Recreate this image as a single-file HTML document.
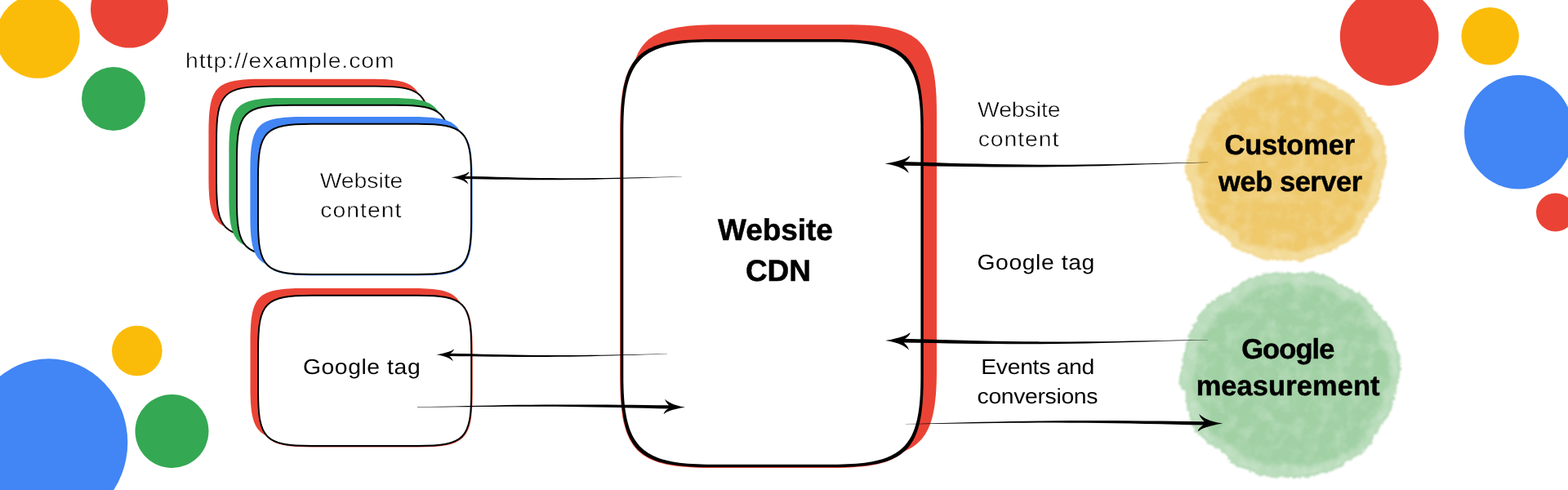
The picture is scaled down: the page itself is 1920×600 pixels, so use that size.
<!DOCTYPE html>
<html lang="en">
<head>
<meta charset="utf-8">
<title>Website CDN diagram</title>
<style>
html,body{margin:0;padding:0;background:#fff;}
body{width:1920px;height:600px;overflow:hidden;}
svg{display:block;}
text{font-family:"Liberation Sans",sans-serif;fill:#000;text-rendering:geometricPrecision;}
#labels{opacity:0.999;}
.l{font-size:26px;stroke:#fff;stroke-width:0.45px;}
.m{font-size:26px;}
.b{font-size:34.5px;font-weight:bold;stroke:#000;stroke-width:0.5px;stroke-linejoin:round;}
.c{font-size:37px;font-weight:bold;stroke:#000;stroke-width:0.5px;stroke-linejoin:round;}
</style>
</head>
<body>
<svg width="1920" height="600" viewBox="0 0 1920 600">
<defs>
<filter id="wc" x="-10%" y="-10%" width="120%" height="120%" color-interpolation-filters="sRGB">
<feTurbulence type="fractalNoise" baseFrequency="0.035" numOctaves="2" seed="7" result="n1"/>
<feDisplacementMap in="SourceGraphic" in2="n1" scale="4" xChannelSelector="R" yChannelSelector="G" result="d1"/>
<feTurbulence type="fractalNoise" baseFrequency="0.22" numOctaves="2" seed="11" result="n2"/>
<feDisplacementMap in="d1" in2="n2" scale="6" xChannelSelector="G" yChannelSelector="R" result="d2"/>
<feGaussianBlur in="d2" stdDeviation="0.8"/>
</filter>
<filter id="wi" x="-10%" y="-10%" width="120%" height="120%" color-interpolation-filters="sRGB">
<feTurbulence type="fractalNoise" baseFrequency="0.03" numOctaves="2" seed="21" result="n1"/>
<feDisplacementMap in="SourceGraphic" in2="n1" scale="14" xChannelSelector="R" yChannelSelector="G" result="d1"/>
<feTurbulence type="fractalNoise" baseFrequency="0.15" numOctaves="2" seed="5" result="n2"/>
<feDisplacementMap in="d1" in2="n2" scale="8" xChannelSelector="G" yChannelSelector="R" result="d2"/>
<feGaussianBlur in="d2" stdDeviation="2.2"/>
</filter>
<filter id="wt" x="0" y="0" width="100%" height="100%" color-interpolation-filters="sRGB">
<feTurbulence type="fractalNoise" baseFrequency="0.06" numOctaves="3" seed="2" result="n"/>
<feColorMatrix in="n" type="matrix" values="0 0 0 0 1  0 0 0 0 1  0 0 0 0 1  1.6 0 0 0 -0.62" result="a"/>
<feComposite in="a" in2="SourceGraphic" operator="in"/>
</filter>
</defs>
<rect width="1920" height="600" fill="#fff"/>
<circle cx="46.5" cy="44.6" r="51.2" fill="#FBBC09"/>
<circle cx="158.5" cy="11" r="47.5" fill="#EA4335"/>
<circle cx="139" cy="121" r="39" fill="#34A853"/>
<circle cx="167.8" cy="429.5" r="30.8" fill="#FBBC09"/>
<ellipse cx="59.5" cy="541.8" rx="96.8" ry="102.6" fill="#4285F4"/>
<circle cx="210.5" cy="528" r="45" fill="#34A853"/>
<circle cx="1701.2" cy="44.5" r="60.4" fill="#EA4335"/>
<circle cx="1824.7" cy="44.3" r="35.3" fill="#FBBC09"/>
<ellipse cx="1859.8" cy="161.75" rx="66.8" ry="69.75" fill="#4285F4"/>
<circle cx="1904.5" cy="260" r="23.5" fill="#EA4335"/>
<path d="M1451.5,207 C1451.5,204.72 1451.82,204.67 1452.5,201.7 C1453.18,198.73 1454.38,194.07 1455.6,189.2 C1456.82,184.33 1458.23,177.72 1459.8,172.5 C1461.37,167.28 1463.08,162.77 1465,157.9 C1466.92,153.03 1468.52,147.98 1471.3,143.3 C1474.08,138.62 1477.88,133.62 1481.7,129.8 C1485.52,125.98 1489.68,123.35 1494.2,120.4 C1498.72,117.45 1504.63,114.87 1508.8,112.1 C1512.97,109.33 1515.38,106.23 1519.2,103.8 C1523.02,101.37 1526.85,99.32 1531.7,97.5 C1536.55,95.68 1542.75,93.83 1548.3,92.9 C1553.85,91.97 1559.72,92 1565,91.9 C1570.28,91.8 1575.7,92.23 1580,92.3 C1584.3,92.37 1585.52,91.95 1590.8,92.3 C1596.08,92.65 1605.78,93.02 1611.7,94.4 C1617.62,95.78 1621.78,98.35 1626.3,100.6 C1630.82,102.85 1634.3,105.28 1638.8,107.9 C1643.3,110.52 1649.13,113.17 1653.3,116.3 C1657.47,119.43 1660.32,122.88 1663.8,126.7 C1667.28,130.52 1670.73,135.03 1674.2,139.2 C1677.67,143.37 1681.83,147.53 1684.6,151.7 C1687.37,155.87 1689.07,159.68 1690.8,164.2 C1692.53,168.72 1693.95,173.95 1695,178.8 C1696.05,183.65 1696.82,188.1 1697.1,193.3 C1697.38,198.5 1697.05,205.97 1696.7,210 C1696.35,214.03 1695.98,213.82 1695,217.5 C1694.02,221.18 1692.18,227.23 1690.8,232.1 C1689.42,236.97 1689.12,241.83 1686.7,246.7 C1684.28,251.57 1679.43,256.45 1676.3,261.3 C1673.17,266.15 1670.68,271.3 1667.9,275.8 C1665.12,280.3 1663.77,284.47 1659.6,288.3 C1655.43,292.13 1648.12,295.32 1642.9,298.8 C1637.68,302.28 1633.5,306.6 1628.3,309.2 C1623.1,311.8 1617.95,312.73 1611.7,314.4 C1605.45,316.07 1597.75,318.43 1590.8,319.2 C1583.85,319.97 1577.08,319.12 1570,319 C1562.92,318.88 1554.68,319.78 1548.3,318.5 C1541.92,317.22 1537.6,313.55 1531.7,311.3 C1525.8,309.05 1518.12,308.48 1512.9,305 C1507.68,301.52 1504.92,294.22 1500.4,290.4 C1495.88,286.58 1490.32,285.57 1485.8,282.1 C1481.28,278.63 1476.6,273.77 1473.3,269.6 C1470,265.43 1468.08,261.97 1466,257.1 C1463.92,252.23 1462,245.62 1460.8,240.4 C1459.6,235.18 1460.18,229.97 1458.8,225.8 C1457.42,221.63 1453.72,218.53 1452.5,215.4 C1451.28,212.27 1451.5,209.28 1451.5,207Z" fill="#F3DA96" filter="url(#wc)"/>
<path d="M1466.47,207.89 C1466.47,205.85 1466.76,205.81 1467.37,203.15 C1467.98,200.5 1469.05,196.33 1470.14,191.98 C1471.23,187.62 1472.5,181.71 1473.9,177.04 C1475.3,172.38 1476.83,168.34 1478.55,163.98 C1480.26,159.63 1481.69,155.12 1484.18,150.93 C1486.67,146.74 1490.07,142.27 1493.48,138.85 C1496.89,135.44 1500.62,133.09 1504.66,130.45 C1508.7,127.81 1513.99,125.5 1517.72,123.02 C1521.44,120.55 1523.61,117.78 1527.02,115.6 C1530.43,113.43 1533.86,111.59 1538.2,109.97 C1542.53,108.34 1548.08,106.69 1553.04,105.85 C1558.01,105.02 1563.25,105.05 1567.98,104.96 C1572.7,104.87 1577.55,105.26 1581.39,105.32 C1585.24,105.38 1586.33,105 1591.05,105.32 C1595.78,105.63 1604.45,105.96 1609.74,107.2 C1615.03,108.43 1618.76,110.73 1622.8,112.74 C1626.84,114.75 1629.95,116.93 1633.98,119.27 C1638,121.61 1643.22,123.98 1646.95,126.78 C1650.67,129.58 1653.22,132.67 1656.34,136.08 C1659.45,139.49 1662.54,143.53 1665.64,147.26 C1668.74,150.99 1672.46,154.71 1674.94,158.44 C1677.41,162.17 1678.93,165.58 1680.48,169.62 C1682.03,173.66 1683.3,178.34 1684.24,182.67 C1685.18,187.01 1685.86,190.99 1686.12,195.64 C1686.37,200.29 1686.07,206.97 1685.76,210.58 C1685.45,214.18 1685.12,213.99 1684.24,217.28 C1683.36,220.58 1681.72,225.99 1680.48,230.34 C1679.24,234.69 1678.98,239.05 1676.82,243.4 C1674.65,247.75 1670.32,252.12 1667.51,256.46 C1664.71,260.79 1662.49,265.4 1660,269.42 C1657.51,273.45 1656.31,277.17 1652.58,280.6 C1648.85,284.03 1642.31,286.88 1637.64,289.99 C1632.98,293.11 1629.24,296.97 1624.59,299.29 C1619.94,301.62 1615.33,302.45 1609.74,303.94 C1604.15,305.43 1597.27,307.55 1591.05,308.24 C1584.84,308.92 1578.78,308.16 1572.45,308.06 C1566.11,307.95 1558.75,308.76 1553.04,307.61 C1547.33,306.46 1543.47,303.18 1538.2,301.17 C1532.92,299.16 1526.05,298.65 1521.38,295.54 C1516.72,292.42 1514.24,285.89 1510.21,282.48 C1506.17,279.07 1501.19,278.16 1497.15,275.06 C1493.11,271.96 1488.92,267.6 1485.97,263.88 C1483.02,260.15 1481.3,257.05 1479.44,252.7 C1477.58,248.35 1475.86,242.43 1474.79,237.76 C1473.72,233.1 1474.24,228.43 1473,224.71 C1471.76,220.98 1468.46,218.21 1467.37,215.41 C1466.28,212.6 1466.47,209.94 1466.47,207.89Z" fill="#EEC86A" filter="url(#wi)"/>
<path d="M1455.49,206.97 C1455.49,204.76 1455.8,204.71 1456.46,201.84 C1457.12,198.97 1458.28,194.45 1459.46,189.75 C1460.64,185.04 1462.01,178.64 1463.52,173.59 C1465.04,168.54 1466.7,164.17 1468.55,159.46 C1470.41,154.76 1471.96,149.87 1474.65,145.34 C1477.34,140.81 1481.02,135.97 1484.71,132.28 C1488.4,128.59 1492.43,126.04 1496.8,123.18 C1501.17,120.33 1506.9,117.83 1510.93,115.15 C1514.96,112.48 1517.3,109.48 1520.99,107.12 C1524.68,104.77 1528.39,102.79 1533.08,101.03 C1537.78,99.27 1543.77,97.48 1549.14,96.58 C1554.51,95.68 1560.19,95.71 1565.3,95.61 C1570.41,95.51 1575.65,95.93 1579.81,96 C1583.97,96.06 1585.15,95.66 1590.26,96 C1595.37,96.34 1604.76,96.69 1610.48,98.03 C1616.21,99.37 1620.24,101.85 1624.61,104.03 C1628.98,106.2 1632.35,108.56 1636.7,111.09 C1641.05,113.62 1646.7,116.19 1650.73,119.22 C1654.76,122.25 1657.52,125.59 1660.89,129.28 C1664.26,132.97 1667.6,137.34 1670.95,141.37 C1674.3,145.4 1678.33,149.43 1681.01,153.47 C1683.69,157.5 1685.33,161.19 1687.01,165.56 C1688.69,169.93 1690.06,174.99 1691.07,179.68 C1692.09,184.38 1692.83,188.68 1693.1,193.71 C1693.38,198.74 1693.06,205.97 1692.72,209.87 C1692.38,213.77 1692.02,213.56 1691.07,217.13 C1690.12,220.69 1688.35,226.54 1687.01,231.25 C1685.67,235.96 1685.38,240.67 1683.04,245.38 C1680.71,250.08 1676.01,254.81 1672.98,259.5 C1669.95,264.19 1667.55,269.18 1664.85,273.53 C1662.16,277.88 1660.86,281.91 1656.82,285.62 C1652.79,289.33 1645.71,292.41 1640.67,295.78 C1635.62,299.15 1631.57,303.33 1626.54,305.84 C1621.51,308.36 1616.53,309.26 1610.48,310.87 C1604.44,312.49 1596.99,314.78 1590.26,315.52 C1583.54,316.26 1576.99,315.44 1570.14,315.33 C1563.29,315.21 1555.32,316.08 1549.14,314.84 C1542.97,313.6 1538.79,310.05 1533.08,307.88 C1527.38,305.7 1519.94,305.15 1514.9,301.78 C1509.85,298.41 1507.17,291.35 1502.8,287.66 C1498.43,283.96 1493.05,282.98 1488.68,279.63 C1484.31,276.27 1479.78,271.56 1476.58,267.53 C1473.39,263.5 1471.54,260.15 1469.52,255.44 C1467.5,250.73 1465.65,244.33 1464.49,239.28 C1463.33,234.23 1463.89,229.19 1462.55,225.16 C1461.22,221.12 1457.64,218.13 1456.46,215.09 C1455.28,212.06 1455.49,209.18 1455.49,206.97Z" fill="#fff" opacity="0.28" filter="url(#wt)"/>
<path d="M1442.96,461.06 C1442.96,458.53 1443.31,458.48 1444.07,455.2 C1444.82,451.92 1446.15,446.76 1447.49,441.39 C1448.84,436.01 1450.4,428.7 1452.13,422.93 C1453.86,417.17 1455.76,412.18 1457.88,406.8 C1460,401.42 1461.76,395.84 1464.84,390.67 C1467.92,385.49 1472.11,379.97 1476.33,375.75 C1480.55,371.53 1485.15,368.62 1490.14,365.36 C1495.14,362.1 1501.67,359.25 1506.28,356.19 C1510.88,353.13 1513.55,349.71 1517.77,347.02 C1521.99,344.33 1526.22,342.06 1531.58,340.06 C1536.94,338.05 1543.79,336.01 1549.93,334.97 C1556.06,333.94 1562.54,333.98 1568.38,333.87 C1574.22,333.76 1580.2,334.24 1584.95,334.31 C1589.71,334.39 1591.05,333.92 1596.89,334.31 C1602.73,334.7 1613.44,335.1 1619.98,336.63 C1626.52,338.16 1631.12,341 1636.12,343.48 C1641.11,345.97 1644.96,348.66 1649.93,351.55 C1654.9,354.44 1661.35,357.37 1665.95,360.83 C1670.55,364.29 1673.7,368.11 1677.55,372.32 C1681.4,376.54 1685.21,381.53 1689.04,386.14 C1692.88,390.74 1697.48,395.34 1700.54,399.95 C1703.59,404.55 1705.47,408.77 1707.39,413.76 C1709.3,418.75 1710.87,424.53 1712.03,429.89 C1713.19,435.25 1714.04,440.17 1714.35,445.92 C1714.66,451.66 1714.29,459.91 1713.91,464.37 C1713.52,468.83 1713.12,468.59 1712.03,472.66 C1710.94,476.73 1708.92,483.41 1707.39,488.79 C1705.86,494.17 1705.53,499.55 1702.86,504.92 C1700.19,510.3 1694.83,515.7 1691.37,521.06 C1687.9,526.42 1685.16,532.11 1682.08,537.08 C1679.01,542.05 1677.52,546.66 1672.91,550.89 C1668.31,555.13 1660.22,558.64 1654.46,562.49 C1648.69,566.34 1644.07,571.11 1638.33,573.99 C1632.58,576.86 1626.89,577.89 1619.98,579.73 C1613.08,581.57 1604.57,584.19 1596.89,585.04 C1589.21,585.88 1581.73,584.94 1573.9,584.81 C1566.08,584.69 1556.98,585.68 1549.93,584.26 C1542.87,582.84 1538.1,578.79 1531.58,576.31 C1525.06,573.82 1516.57,573.19 1510.81,569.35 C1505.04,565.5 1501.99,557.43 1497,553.21 C1492,548.99 1485.85,547.87 1480.86,544.04 C1475.87,540.21 1470.7,534.83 1467.05,530.23 C1463.4,525.62 1461.29,521.79 1458.98,516.42 C1456.68,511.04 1454.56,503.73 1453.24,497.96 C1451.91,492.2 1452.56,486.43 1451.03,481.83 C1449.5,477.22 1445.41,473.8 1444.07,470.34 C1442.72,466.87 1442.96,463.58 1442.96,461.06Z" fill="#B9DCBB" filter="url(#wc)"/>
<path d="M1459.93,461.93 C1459.93,459.69 1460.24,459.64 1460.91,456.72 C1461.59,453.81 1462.77,449.22 1463.96,444.43 C1465.16,439.65 1466.55,433.15 1468.09,428.02 C1469.63,422.89 1471.32,418.45 1473.2,413.67 C1475.09,408.88 1476.66,403.92 1479.4,399.31 C1482.13,394.71 1485.87,389.79 1489.62,386.04 C1493.37,382.29 1497.47,379.7 1501.91,376.8 C1506.35,373.9 1512.16,371.36 1516.26,368.64 C1520.36,365.92 1522.73,362.87 1526.48,360.48 C1530.24,358.09 1534,356.08 1538.77,354.29 C1543.54,352.5 1549.63,350.68 1555.09,349.77 C1560.55,348.85 1566.31,348.88 1571.51,348.78 C1576.7,348.69 1582.03,349.11 1586.25,349.18 C1590.48,349.24 1591.68,348.83 1596.87,349.18 C1602.06,349.52 1611.6,349.88 1617.42,351.24 C1623.23,352.6 1627.33,355.12 1631.77,357.34 C1636.21,359.55 1639.63,361.94 1644.06,364.51 C1648.48,367.09 1654.21,369.69 1658.31,372.77 C1662.41,375.85 1665.21,379.24 1668.63,382.99 C1672.06,386.75 1675.45,391.19 1678.86,395.28 C1682.26,399.38 1686.36,403.47 1689.08,407.57 C1691.8,411.67 1693.47,415.42 1695.17,419.86 C1696.88,424.3 1698.27,429.44 1699.3,434.21 C1700.34,438.98 1701.09,443.35 1701.37,448.47 C1701.65,453.58 1701.32,460.92 1700.97,464.88 C1700.63,468.85 1700.27,468.63 1699.3,472.26 C1698.34,475.88 1696.53,481.82 1695.17,486.61 C1693.81,491.39 1693.52,496.18 1691.14,500.96 C1688.77,505.74 1684,510.54 1680.92,515.31 C1677.84,520.08 1675.4,525.14 1672.66,529.57 C1669.93,533.99 1668.6,538.09 1664.5,541.85 C1660.41,545.62 1653.21,548.75 1648.09,552.18 C1642.96,555.6 1638.85,559.84 1633.73,562.4 C1628.62,564.96 1623.56,565.87 1617.42,567.51 C1611.27,569.15 1603.7,571.48 1596.87,572.23 C1590.04,572.98 1583.39,572.15 1576.42,572.03 C1569.46,571.92 1561.37,572.8 1555.09,571.54 C1548.81,570.28 1544.57,566.68 1538.77,564.47 C1532.97,562.25 1525.42,561.7 1520.29,558.27 C1515.16,554.85 1512.44,547.67 1508,543.92 C1503.56,540.17 1498.09,539.17 1493.65,535.76 C1489.21,532.35 1484.61,527.57 1481.36,523.47 C1478.12,519.38 1476.23,515.97 1474.18,511.18 C1472.14,506.4 1470.25,499.9 1469.07,494.77 C1467.89,489.64 1468.47,484.51 1467.11,480.41 C1465.75,476.32 1462.11,473.27 1460.91,470.19 C1459.72,467.11 1459.93,464.18 1459.93,461.93Z" fill="#A0D0A3" filter="url(#wi)"/>
<path d="M1446.95,461.02 C1446.95,458.57 1447.29,458.52 1448.03,455.34 C1448.76,452.16 1450.05,447.15 1451.35,441.93 C1452.66,436.71 1454.17,429.62 1455.85,424.02 C1457.53,418.43 1459.38,413.58 1461.43,408.36 C1463.49,403.14 1465.2,397.73 1468.19,392.71 C1471.17,387.68 1475.25,382.32 1479.34,378.23 C1483.44,374.13 1487.9,371.31 1492.75,368.15 C1497.59,364.98 1503.94,362.21 1508.41,359.24 C1512.87,356.28 1515.47,352.95 1519.56,350.34 C1523.65,347.73 1527.76,345.53 1532.97,343.59 C1538.17,341.64 1544.82,339.65 1550.77,338.65 C1556.72,337.65 1563.01,337.69 1568.68,337.58 C1574.35,337.47 1580.16,337.94 1584.77,338.01 C1589.38,338.08 1590.68,337.63 1596.35,338.01 C1602.02,338.38 1612.42,338.78 1618.76,340.26 C1625.11,341.74 1629.58,344.5 1634.42,346.91 C1639.27,349.32 1643,351.93 1647.83,354.74 C1652.65,357.55 1658.91,360.39 1663.38,363.75 C1667.85,367.11 1670.9,370.81 1674.64,374.9 C1678.38,379 1682.08,383.84 1685.79,388.31 C1689.51,392.78 1693.98,397.25 1696.95,401.71 C1699.92,406.18 1701.74,410.28 1703.6,415.12 C1705.46,419.96 1706.98,425.58 1708.1,430.78 C1709.23,435.98 1710.05,440.75 1710.35,446.33 C1710.66,451.91 1710.3,459.91 1709.93,464.24 C1709.55,468.57 1709.16,468.33 1708.1,472.28 C1707.05,476.23 1705.08,482.72 1703.6,487.94 C1702.11,493.16 1701.79,498.38 1699.2,503.6 C1696.61,508.82 1691.41,514.06 1688.05,519.26 C1684.69,524.46 1682.02,529.98 1679.04,534.81 C1676.05,539.64 1674.6,544.1 1670.14,548.22 C1665.67,552.33 1657.82,555.74 1652.23,559.48 C1646.63,563.21 1642.14,567.84 1636.57,570.63 C1630.99,573.42 1625.47,574.42 1618.76,576.21 C1612.06,577.99 1603.8,580.53 1596.35,581.35 C1588.9,582.18 1581.64,581.27 1574.04,581.14 C1566.45,581.02 1557.62,581.98 1550.77,580.6 C1543.92,579.23 1539.29,575.3 1532.97,572.88 C1526.64,570.47 1518.4,569.86 1512.8,566.13 C1507.21,562.39 1504.24,554.56 1499.4,550.47 C1494.55,546.37 1488.58,545.28 1483.74,541.57 C1478.9,537.85 1473.87,532.63 1470.33,528.16 C1466.79,523.69 1464.74,519.97 1462.5,514.75 C1460.27,509.53 1458.21,502.44 1456.93,496.84 C1455.64,491.25 1456.27,485.65 1454.78,481.19 C1453.3,476.72 1449.33,473.39 1448.03,470.03 C1446.72,466.67 1446.95,463.47 1446.95,461.02Z" fill="#fff" opacity="0.28" filter="url(#wt)"/>
<path d="M321.45,96.75 L453.1,96.75 C510.52,96.75 519.1,105.33 519.1,162.75 L519.1,217.3 C519.1,274.72 510.52,283.3 453.1,283.3 L321.45,283.3 C264.03,283.3 255.45,274.72 255.45,217.3 L255.45,162.75 C255.45,105.33 264.03,96.75 321.45,96.75 Z" fill="#EA4335"/>
<path d="M331.65,106.2 L460.7,106.2 C518.12,106.2 526.7,114.78 526.7,172.2 L526.7,224.4 C526.7,281.82 518.12,290.4 460.7,290.4 L331.65,290.4 C274.23,290.4 265.65,281.82 265.65,224.4 L265.65,172.2 C265.65,114.78 274.23,106.2 331.65,106.2 Z" fill="#EA4335" stroke="#EA4335" stroke-width="1.9"/>
<path d="M331.05,105.6 L460.1,105.6 C517.52,105.6 526.1,114.18 526.1,171.6 L526.1,223.8 C526.1,281.22 517.52,289.8 460.1,289.8 L331.05,289.8 C273.63,289.8 265.05,281.22 265.05,223.8 L265.05,171.6 C265.05,114.18 273.63,105.6 331.05,105.6 Z" fill="#fff" stroke="#000" stroke-width="1.9"/>
<path d="M346.4,119.9 L478.05,119.9 C535.47,119.9 544.05,128.48 544.05,185.9 L544.05,240.45 C544.05,297.87 535.47,306.45 478.05,306.45 L346.4,306.45 C288.98,306.45 280.4,297.87 280.4,240.45 L280.4,185.9 C280.4,128.48 288.98,119.9 346.4,119.9 Z" fill="#34A853"/>
<path d="M356.6,129.35 L485.65,129.35 C543.07,129.35 551.65,137.93 551.65,195.35 L551.65,247.55 C551.65,304.97 543.07,313.55 485.65,313.55 L356.6,313.55 C299.18,313.55 290.6,304.97 290.6,247.55 L290.6,195.35 C290.6,137.93 299.18,129.35 356.6,129.35 Z" fill="#34A853" stroke="#34A853" stroke-width="1.9"/>
<path d="M356,128.75 L485.05,128.75 C542.47,128.75 551.05,137.33 551.05,194.75 L551.05,246.95 C551.05,304.37 542.47,312.95 485.05,312.95 L356,312.95 C298.58,312.95 290,304.37 290,246.95 L290,194.75 C290,137.33 298.58,128.75 356,128.75 Z" fill="#fff" stroke="#000" stroke-width="1.9"/>
<path d="M372.4,142.9 L504.05,142.9 C561.47,142.9 570.05,151.48 570.05,208.9 L570.05,263.45 C570.05,320.87 561.47,329.45 504.05,329.45 L372.4,329.45 C314.98,329.45 306.4,320.87 306.4,263.45 L306.4,208.9 C306.4,151.48 314.98,142.9 372.4,142.9 Z" fill="#4285F4"/>
<path d="M382.6,152.35 L511.65,152.35 C569.07,152.35 577.65,160.93 577.65,218.35 L577.65,270.55 C577.65,327.97 569.07,336.55 511.65,336.55 L382.6,336.55 C325.18,336.55 316.6,327.97 316.6,270.55 L316.6,218.35 C316.6,160.93 325.18,152.35 382.6,152.35 Z" fill="#4285F4" stroke="#4285F4" stroke-width="1.9"/>
<path d="M382,151.75 L511.05,151.75 C568.47,151.75 577.05,160.33 577.05,217.75 L577.05,269.95 C577.05,327.37 568.47,335.95 511.05,335.95 L382,335.95 C324.58,335.95 316,327.37 316,269.95 L316,217.75 C316,160.33 324.58,151.75 382,151.75 Z" fill="#fff" stroke="#000" stroke-width="1.9"/>
<path d="M372.5,352.9 L504.15,352.9 C561.57,352.9 570.15,361.48 570.15,418.9 L570.15,473.45 C570.15,530.87 561.57,539.45 504.15,539.45 L372.5,539.45 C315.08,539.45 306.5,530.87 306.5,473.45 L306.5,418.9 C306.5,361.48 315.08,352.9 372.5,352.9 Z" fill="#EA4335"/>
<path d="M382.7,362.35 L511.75,362.35 C569.17,362.35 577.75,370.93 577.75,428.35 L577.75,480.55 C577.75,537.97 569.17,546.55 511.75,546.55 L382.7,546.55 C325.28,546.55 316.7,537.97 316.7,480.55 L316.7,428.35 C316.7,370.93 325.28,362.35 382.7,362.35 Z" fill="#EA4335" stroke="#EA4335" stroke-width="1.9"/>
<path d="M382.1,361.75 L511.15,361.75 C568.57,361.75 577.15,370.33 577.15,427.75 L577.15,479.95 C577.15,537.37 568.57,545.95 511.15,545.95 L382.1,545.95 C324.68,545.95 316.1,537.37 316.1,479.95 L316.1,427.75 C316.1,370.33 324.68,361.75 382.1,361.75 Z" fill="#fff" stroke="#000" stroke-width="1.9"/>
<path d="M880.1,30.25 L1037,30.25 C1127.64,30.25 1147,49.61 1147,140.25 L1147,451.4 C1147,542.04 1127.64,561.4 1037,561.4 L880.1,561.4 C789.46,561.4 770.1,542.04 770.1,451.4 L770.1,140.25 C770.1,49.61 789.46,30.25 880.1,30.25 Z" fill="#EA4335"/>
<path d="M870.8,50.55 L1018.3,50.55 C1108.94,50.55 1128.3,69.91 1128.3,160.55 L1128.3,461.2 C1128.3,551.84 1108.94,571.2 1018.3,571.2 L870.8,571.2 C780.16,571.2 760.8,551.84 760.8,461.2 L760.8,160.55 C760.8,69.91 780.16,50.55 870.8,50.55 Z" fill="#EA4335" stroke="#EA4335" stroke-width="3.4"/>
<path d="M871.6,48.05 L1019.1,48.05 C1111.14,48.05 1130.8,67.71 1130.8,159.75 L1130.8,460.4 C1130.8,552.44 1111.14,572.1 1019.1,572.1 L871.6,572.1 C779.56,572.1 759.9,552.44 759.9,460.4 L759.9,159.75 C759.9,67.71 779.56,48.05 871.6,48.05 Z" fill="#000"/>
<path d="M871.6,51.45 L1019.1,51.45 C1106.82,51.45 1127.4,72.03 1127.4,159.75 L1127.4,460.4 C1127.4,548.12 1106.82,568.7 1019.1,568.7 L871.6,568.7 C783.88,568.7 763.3,548.12 763.3,460.4 L763.3,159.75 C763.3,72.03 783.88,51.45 871.6,51.45 Z" fill="#fff"/>
<path d="M552.5,217.3 L557,216.51 L560.6,215.68 L564.2,214.78 L567.8,213.7 L569.78,212.98 L571.4,212.26 L573.2,211 L574.64,210.28 L573.92,211.9 L573.02,213.12 L572.12,214.06 L571.08,214.92 L569.96,215.59 L568.88,219.01 L569.78,219.89 L570.68,220.9 L571.51,221.91 L572.3,223.06 L573.52,225.65 L572.16,224.5 L570.68,223.42 L569.28,222.48 L567.8,221.62 L564.2,220 L560.6,218.92 L557,218.02Z" fill="#000"/>
<path d="M567.98,215.66 L581.33,215.99 L594.68,216.35 L608.03,216.72 L621.38,217.07 L634.74,217.4 L648.09,217.68 L661.44,217.9 L674.79,218.07 L688.14,218.18 L701.49,218.22 L714.84,218.19 L728.19,218.1 L741.54,217.96 L754.89,217.76 L768.25,217.52 L781.6,217.25 L794.95,216.97 L808.3,216.7 L821.65,216.48 L835,216.38 L835,216.68 L821.65,216.94 L808.3,217.31 L794.95,217.74 L781.6,218.17 L768.25,218.6 L754.89,218.99 L741.54,219.35 L728.19,219.65 L714.84,219.9 L701.49,220.08 L688.14,220.19 L674.79,220.25 L661.44,220.23 L648.09,220.16 L634.74,220.04 L621.38,219.87 L608.03,219.67 L594.68,219.46 L581.33,219.25 L567.98,219.08Z" fill="#000"/>
<path d="M534.5,434.3 L538.88,433.53 L542.38,432.73 L545.88,431.85 L549.38,430.8 L551.3,430.1 L552.88,429.4 L554.62,428.18 L556.02,427.48 L555.33,429.05 L554.45,430.24 L553.58,431.15 L552.56,431.99 L551.48,432.64 L550.42,435.96 L551.3,436.82 L552.17,437.8 L552.98,438.78 L553.75,439.9 L554.94,442.42 L553.61,441.3 L552.17,440.25 L550.81,439.34 L549.38,438.5 L545.88,436.93 L542.38,435.88 L538.88,435Z" fill="#000"/>
<path d="M549.55,432.69 L562.92,432.99 L576.29,433.32 L589.67,433.66 L603.04,433.98 L616.41,434.28 L629.78,434.54 L643.16,434.75 L656.53,434.91 L669.9,435.01 L683.27,435.05 L696.65,435.02 L710.02,434.95 L723.39,434.81 L736.76,434.63 L750.14,434.42 L763.51,434.17 L776.88,433.92 L790.25,433.67 L803.63,433.47 L817,433.38 L817,433.68 L803.63,433.92 L790.25,434.28 L776.88,434.67 L763.51,435.08 L750.14,435.47 L736.76,435.84 L723.39,436.17 L710.02,436.46 L696.65,436.69 L683.27,436.86 L669.9,436.97 L656.53,437.02 L643.16,437.02 L629.78,436.96 L616.41,436.85 L603.04,436.7 L589.67,436.53 L576.29,436.34 L562.92,436.16 L549.55,436.02Z" fill="#000"/>
<path d="M839,498.5 L833.62,499.45 L829.33,500.44 L825.02,501.51 L820.73,502.8 L818.36,503.66 L816.42,504.52 L814.27,506.02 L812.55,506.88 L813.41,504.95 L814.49,503.49 L815.57,502.37 L816.81,501.34 L818.14,500.6 L819.43,496.4 L818.36,495.4 L817.28,494.2 L816.3,493 L815.35,491.62 L813.89,488.52 L815.52,489.9 L817.28,491.19 L818.96,492.31 L820.73,493.34 L825.02,495.27 L829.33,496.56 L833.62,497.64Z" fill="#000"/>
<path d="M820.51,496.32 L805.03,496.18 L789.56,496.01 L774.08,495.84 L758.61,495.68 L743.13,495.54 L727.66,495.44 L712.18,495.38 L696.71,495.38 L681.23,495.42 L665.75,495.52 L650.28,495.67 L634.8,495.87 L619.33,496.12 L603.85,496.42 L588.38,496.75 L572.9,497.1 L557.43,497.46 L541.95,497.81 L526.48,498.12 L511,498.34 L511,498.64 L526.48,498.62 L541.95,498.5 L557.43,498.34 L572.9,498.18 L588.38,498.02 L603.85,497.89 L619.33,497.79 L634.8,497.73 L650.28,497.72 L665.75,497.77 L681.23,497.86 L696.71,498.02 L712.18,498.22 L727.66,498.47 L743.13,498.77 L758.61,499.1 L774.08,499.46 L789.56,499.82 L805.03,500.19 L820.51,500.52Z" fill="#000"/>
<path d="M1083.7,200.4 L1089.95,199.3 L1094.95,198.15 L1099.95,196.9 L1104.95,195.4 L1107.7,194.4 L1109.95,193.4 L1112.45,191.65 L1114.45,190.65 L1113.45,192.9 L1112.2,194.6 L1110.95,195.9 L1109.5,197.1 L1107.95,198.03 L1106.45,202.78 L1107.7,204 L1108.95,205.4 L1110.1,206.8 L1111.2,208.4 L1112.9,212 L1111,210.4 L1108.95,208.9 L1107,207.6 L1104.95,206.4 L1099.95,204.15 L1094.95,202.65 L1089.95,201.4Z" fill="#000"/>
<path d="M1105.2,198.12 L1123.89,198.58 L1142.58,199.1 L1161.27,199.64 L1179.96,200.15 L1198.65,200.61 L1217.34,201.01 L1236.03,201.33 L1254.72,201.56 L1273.41,201.7 L1292.1,201.73 L1310.79,201.67 L1329.48,201.52 L1348.17,201.28 L1366.86,200.96 L1385.55,200.57 L1404.24,200.15 L1422.93,199.71 L1441.62,199.28 L1460.31,198.93 L1479,198.75 L1479,199.05 L1460.31,199.45 L1441.62,200.03 L1422.93,200.67 L1404.24,201.34 L1385.55,201.99 L1366.86,202.59 L1348.17,203.13 L1329.48,203.6 L1310.79,203.98 L1292.1,204.26 L1273.41,204.44 L1254.72,204.53 L1236.03,204.52 L1217.34,204.42 L1198.65,204.25 L1179.96,204.01 L1161.27,203.72 L1142.58,203.41 L1123.89,203.11 L1105.2,202.87Z" fill="#000"/>
<path d="M1084,417.1 L1090.25,416 L1095.25,414.85 L1100.25,413.6 L1105.25,412.1 L1108,411.1 L1110.25,410.1 L1112.75,408.35 L1114.75,407.35 L1113.75,409.6 L1112.5,411.3 L1111.25,412.6 L1109.8,413.8 L1108.25,414.73 L1106.75,419.48 L1108,420.7 L1109.25,422.1 L1110.4,423.5 L1111.5,425.1 L1113.2,428.7 L1111.3,427.1 L1109.25,425.6 L1107.3,424.3 L1105.25,423.1 L1100.25,420.85 L1095.25,419.35 L1090.25,418.1Z" fill="#000"/>
<path d="M1105.5,414.83 L1124.17,415.28 L1142.85,415.79 L1161.53,416.31 L1180.2,416.8 L1198.88,417.26 L1217.55,417.65 L1236.22,417.98 L1254.9,418.22 L1273.58,418.38 L1292.25,418.45 L1310.92,418.44 L1329.6,418.34 L1348.28,418.16 L1366.95,417.91 L1385.62,417.6 L1404.3,417.26 L1422.97,416.9 L1441.65,416.55 L1460.33,416.27 L1479,416.15 L1479,416.45 L1460.33,416.79 L1441.65,417.3 L1422.97,417.86 L1404.3,418.45 L1385.62,419.01 L1366.95,419.54 L1348.28,420.01 L1329.6,420.42 L1310.92,420.74 L1292.25,420.98 L1273.58,421.13 L1254.9,421.19 L1236.22,421.17 L1217.55,421.07 L1198.88,420.89 L1180.2,420.66 L1161.53,420.39 L1142.85,420.09 L1124.17,419.81 L1105.5,419.58Z" fill="#000"/>
<path d="M1497.3,518.4 L1491.05,519.5 L1486.05,520.65 L1481.05,521.9 L1476.05,523.4 L1473.3,524.4 L1471.05,525.4 L1468.55,527.15 L1466.55,528.15 L1467.55,525.9 L1468.8,524.2 L1470.05,522.9 L1471.5,521.7 L1473.05,520.6 L1474.55,516.2 L1473.3,514.8 L1472.05,513.4 L1470.9,512 L1469.8,510.4 L1468.1,506.8 L1470,508.4 L1472.05,509.9 L1474,511.2 L1476.05,512.4 L1481.05,514.65 L1486.05,516.15 L1491.05,517.4Z" fill="#000"/>
<path d="M1475.8,516.14 L1457.46,515.98 L1439.12,515.78 L1420.78,515.57 L1402.44,515.38 L1384.1,515.22 L1365.76,515.1 L1347.42,515.05 L1329.08,515.05 L1310.74,515.12 L1292.4,515.25 L1274.06,515.46 L1255.72,515.73 L1237.38,516.06 L1219.04,516.44 L1200.7,516.87 L1182.36,517.33 L1164.02,517.8 L1145.68,518.26 L1127.34,518.66 L1109,518.95 L1109,519.25 L1127.34,519.17 L1145.68,518.97 L1164.02,518.71 L1182.36,518.45 L1200.7,518.2 L1219.04,517.97 L1237.38,517.79 L1255.72,517.67 L1274.06,517.6 L1292.4,517.6 L1310.74,517.67 L1329.08,517.81 L1347.42,518.01 L1365.76,518.27 L1384.1,518.59 L1402.44,518.96 L1420.78,519.36 L1439.12,519.77 L1457.46,520.17 L1475.8,520.54Z" fill="#000"/>
<g id="labels">
<text transform="translate(227.07,83.25) scale(1.09,1)" class="l" letter-spacing="0.87">http://example.com</text>
<text transform="translate(391.65,230) scale(1.09,1)" class="l" letter-spacing="-0.02">Website</text>
<text transform="translate(392.29,266.2) scale(1.09,1)" class="l" letter-spacing="0.93">content</text>
<text transform="translate(370.88,457.7) scale(1.09,1)" class="m" letter-spacing="0.52">Google tag</text>
<text x="878.96" y="294" class="c" letter-spacing="-0.07">Website</text>
<text x="913.03" y="343.8" class="c" letter-spacing="-0.13">CDN</text>
<text transform="translate(1196.95,142.9) scale(1.09,1)" class="l" letter-spacing="-0.05">Website</text>
<text transform="translate(1197.69,179.1) scale(1.09,1)" class="l" letter-spacing="0.88">content</text>
<text transform="translate(1196.48,329.8) scale(1.09,1)" class="m" letter-spacing="0.52">Google tag</text>
<text transform="translate(1201.2,457.9) scale(1.09,1)" class="m" letter-spacing="-0.27">Events and</text>
<text transform="translate(1196.59,494.1) scale(1.09,1)" class="m" letter-spacing="-0.31">conversions</text>
<text x="1499.53" y="189" class="b" letter-spacing="-0.21">Customer</text>
<text x="1492.11" y="234.4" class="b" letter-spacing="-0.47">web server</text>
<text x="1520.13" y="439" class="b" letter-spacing="-0.9">Google</text>
<text x="1464.65" y="484.4" class="b" letter-spacing="0.05">measurement</text>
</g>
</svg>
</body>
</html>
